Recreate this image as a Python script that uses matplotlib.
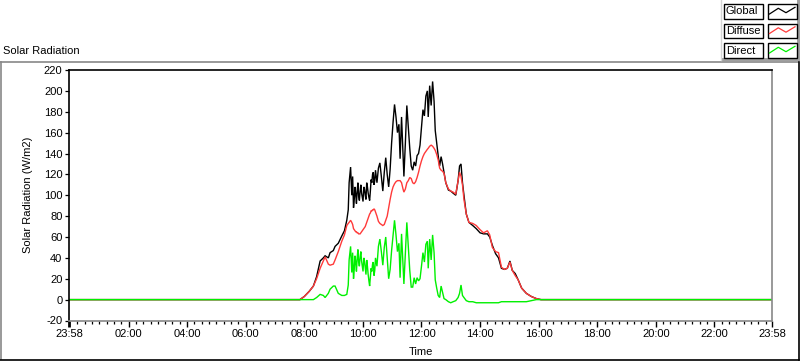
import matplotlib
matplotlib.use("Agg")
import matplotlib.pyplot as plt
from matplotlib.lines import Line2D
from matplotlib.patches import Rectangle

# ---- data (hours since midnight; first/last points are the 23:58 record ends) ----
time_h = [-0.033, 7.85, 8.00, 8.17, 8.31, 8.42, 8.54, 8.65, 8.71, 8.82, 8.88, 8.99, 9.05, 9.16,
          9.28, 9.37, 9.45, 9.50, 9.53, 9.58, 9.62, 9.65,
          9.68, 9.705, 9.73, 9.755, 9.78, 9.805, 9.83, 9.855, 9.88, 9.905, 9.93, 9.955,
          9.98, 10.005, 10.03, 10.055, 10.08, 10.105, 10.13, 10.155, 10.18, 10.205, 10.23, 10.255,
          10.28, 10.305, 10.33, 10.355, 10.38, 10.405, 10.43, 10.455, 10.48,
          10.53, 10.58, 10.63, 10.68, 10.73, 10.78, 10.83, 10.88, 10.93, 10.98, 11.03, 11.08, 11.13,
          11.18, 11.23, 11.27, 11.32, 11.37, 11.40, 11.45, 11.50, 11.55, 11.60, 11.65, 11.70,
          11.75, 11.80, 11.85, 11.90, 11.95, 12.00, 12.05, 12.10, 12.15, 12.20, 12.23, 12.28,
          12.33, 12.38, 12.43, 12.47, 12.52, 12.57, 12.62, 12.67, 12.72, 12.77, 12.83, 12.92,
          13.00, 13.08, 13.17, 13.25, 13.30, 13.35, 13.40, 13.45, 13.53, 13.62, 13.75, 13.87,
          14.00, 14.12, 14.25, 14.33, 14.42, 14.53, 14.63, 14.73, 14.83, 14.93, 15.02, 15.10,
          15.20, 15.30, 15.42, 15.58, 15.75, 15.92, 16.08, 23.967]

global_rad = [0, 0, 3, 8, 13, 22, 37, 40, 42, 40, 45, 47, 51, 54,
              61, 66, 76, 86, 112, 127, 100, 118,
              88, 96, 108, 101, 92, 104, 112, 99, 95, 104, 110, 102,
              98, 94, 108, 106, 100, 96, 112, 108, 102, 98, 95, 104,
              115, 112, 120, 122, 110, 114, 124, 118, 112,
              126, 131, 118, 104, 122, 136, 120, 108, 125, 150, 170, 187, 175,
              160, 168, 135, 175, 140, 118, 150, 186, 165, 145, 128, 124,
              132, 128, 138, 140, 148, 165, 182, 176, 195, 200, 175, 205,
              186, 209, 190, 162, 150, 138, 128, 137, 130, 122, 112, 105,
              104, 102, 100, 114, 128, 130, 112, 100, 82, 74, 71, 68,
              64, 63, 63, 60, 52, 44, 40, 30, 29, 30, 37, 28,
              25, 19, 11, 6, 3, 1, 0, 0]

diffuse_rad = [0, 0, 3, 8, 13, 20, 30, 37, 41, 34, 33, 34, 38, 46,
               56, 62, 71, 73, 74, 76, 74, 72,
               68, 67, 66, 65, 65, 64, 64, 63, 63, 63, 64, 65,
               66, 67, 68, 69, 70, 72, 74, 76, 78, 80, 82, 83,
               85, 85, 86, 86, 87, 86, 84, 82, 80,
               75, 73, 72, 71, 72, 76, 80, 88, 96, 103, 108, 111, 113,
               114, 114, 114, 112, 106, 103, 106, 112, 114, 117, 116, 112,
               111, 113, 117, 122, 128, 133, 137, 140, 142, 144, 145, 147,
               148, 147, 145, 143, 139, 134, 126, 124, 123, 121, 112, 106,
               104, 103, 101, 114, 122, 118, 110, 96, 82, 74, 73, 71,
               67, 64, 66, 62, 50, 46, 45, 31, 29, 30, 36, 28,
               23, 19, 11, 6, 3, 1, 0, 0]

direct_rad = [0, 0, 0, 0, 0, 2, 5, 4, 2, 6, 10, 13, 13, 6,
              4, 4, 5, 14, 38, 51, 26, 45,
              20, 29, 42, 36, 27, 40, 48, 36, 32, 41, 46, 37,
              32, 27, 40, 37, 30, 24, 38, 32, 24, 18, 13, 21,
              30, 27, 34, 36, 23, 28, 40, 36, 32,
              51, 58, 46, 33, 50, 60, 40, 20, 29, 47, 62, 76, 62,
              46, 54, 21, 63, 34, 15, 44, 74, 51, 28, 12, 12,
              21, 15, 21, 18, 20, 32, 45, 36, 53, 56, 30, 58,
              38, 62, 45, 19, 11, 4, 2, 13, 7, 1, 0, -2,
              -3, -2, -1, 2, 6, 14, 4, 2, -1, -2, -2, -3,
              -3, -3, -3, -3, -3, -3, -3, -2, -2, -2, -2, -2,
              -2, -2, -2, -2, -1, 0, 0, 0]

series_names = ["Global", "Diffuse", "Direct"]
series_colors = ["#000000", "#ff3a3a", "#00f000"]

y_ticks = list(range(-20, 221, 20))
x_major = [-2 / 60, 2, 4, 6, 8, 10, 12, 14, 16, 18, 20, 22, 24 - 2 / 60]
x_major_labels = ["23:58", "02:00", "04:00", "06:00", "08:00", "10:00", "12:00",
                  "14:00", "16:00", "18:00", "20:00", "22:00", "23:58"]

FONT = "Liberation Sans"
plt.rcParams["font.family"] = [FONT, "DejaVu Sans"]

W, H = 800, 361
fig = plt.figure(figsize=(W / 100, H / 100), dpi=100)
fig.patch.set_facecolor("white")


def fx(x):
    return x / W


def fy(y):
    return 1 - y / H


ax = fig.add_axes([fx(69), fy(320.5), fx(772) - fx(69), fy(70) - fy(320.5)])
ax.set_xlim(-2 / 60, 24 - 2 / 60)
ax.set_ylim(-20, 220)

for vals, col in zip([global_rad, diffuse_rad, direct_rad], series_colors):
    ax.plot(time_h, vals, color=col, lw=1.0, solid_joinstyle="miter")

for side in ["top", "left"]:
    ax.spines[side].set_color("black")
    ax.spines[side].set_linewidth(1.2)
for side in ["bottom", "right"]:
    ax.spines[side].set_color("#888888")
    ax.spines[side].set_linewidth(1.2)

ax.set_yticks(y_ticks)
ax.set_yticklabels([str(v) for v in y_ticks])
ax.tick_params(axis="y", direction="out", length=3.2, width=0.9, pad=1.5,
               labelsize=8, colors="black")

ax.set_xticks(x_major)
ax.set_xticklabels(x_major_labels)
minor = [m / 4 for m in range(1, 96) if m % 8 != 0]
ax.set_xticks(minor, minor=True)
ax.tick_params(axis="x", which="major", direction="out", length=4, width=1.0, pad=2,
               labelsize=8, colors="black")
ax.tick_params(axis="x", which="minor", direction="out", length=2.5, width=0.9)
ax.xaxis.get_major_ticks()[0].tick1line.set_markeredgewidth(2.0)

ax.set_ylabel("Solar Radiation (W/m2)", fontsize=8)
ax.yaxis.set_label_coords((33 - 69) / 703, 0.5)
ax.set_xlabel("Time", fontsize=8)
ax.xaxis.set_label_coords(0.5, -(352 - 320.5) / 250.5)
ax.xaxis.label.set_va("center")

# chart title
fig.text(fx(3), fy(51), "Solar Radiation", fontsize=8, ha="left", va="center")

# outer frame (3D style)
fig.add_artist(Line2D([fx(0), fx(798)], [fy(61.5), fy(61.5)], color="#888888", lw=1.2))
fig.add_artist(Line2D([fx(1), fx(1)], [fy(61.5), fy(359)], color="#888888", lw=1.2))
fig.add_artist(Line2D([fx(0), fx(799)], [fy(359.5), fy(359.5)], color="black", lw=1.2))
fig.add_artist(Line2D([fx(798.5), fx(798.5)], [fy(61.5), fy(360)], color="black", lw=1.2))

# legend panel
fig.add_artist(Line2D([fx(721), fx(721)], [fy(0), fy(60)], color="#d4d4d4", lw=1.0))
fig.add_artist(Rectangle((fx(721), fy(61)), fx(79), fy(58) - fy(61),
                         transform=fig.transFigure, color="#a0a0a0", lw=0))
fig.add_artist(Rectangle((fx(797), fy(61)), fx(3), fy(0) - fy(61),
                         transform=fig.transFigure, color="#a0a0a0", lw=0))
row_top = [4, 23.5, 43]
for name, col, top in zip(series_names, series_colors, row_top):
    fig.add_artist(Rectangle((fx(724), fy(top + 14.5)), fx(38.5), fy(top) - fy(top + 14.5),
                             transform=fig.transFigure, facecolor="white",
                             edgecolor="black", lw=1.0))
    fig.add_artist(Rectangle((fx(768), fy(top + 14.5)), fx(28.5), fy(top) - fy(top + 14.5),
                             transform=fig.transFigure, facecolor="white",
                             edgecolor="black", lw=1.0))
    fig.text(fx(726), fy(top + 7.5), name, fontsize=8, ha="left", va="center")
    zx = [769.5, 778.3, 786, 795]
    zy = [top + 10, top + 4.3, top + 8.7, top + 3.3]
    fig.add_artist(Line2D([fx(v) for v in zx], [fy(v) for v in zy], color=col, lw=0.9))

fig.savefig("out.png", dpi=100, facecolor="white")
